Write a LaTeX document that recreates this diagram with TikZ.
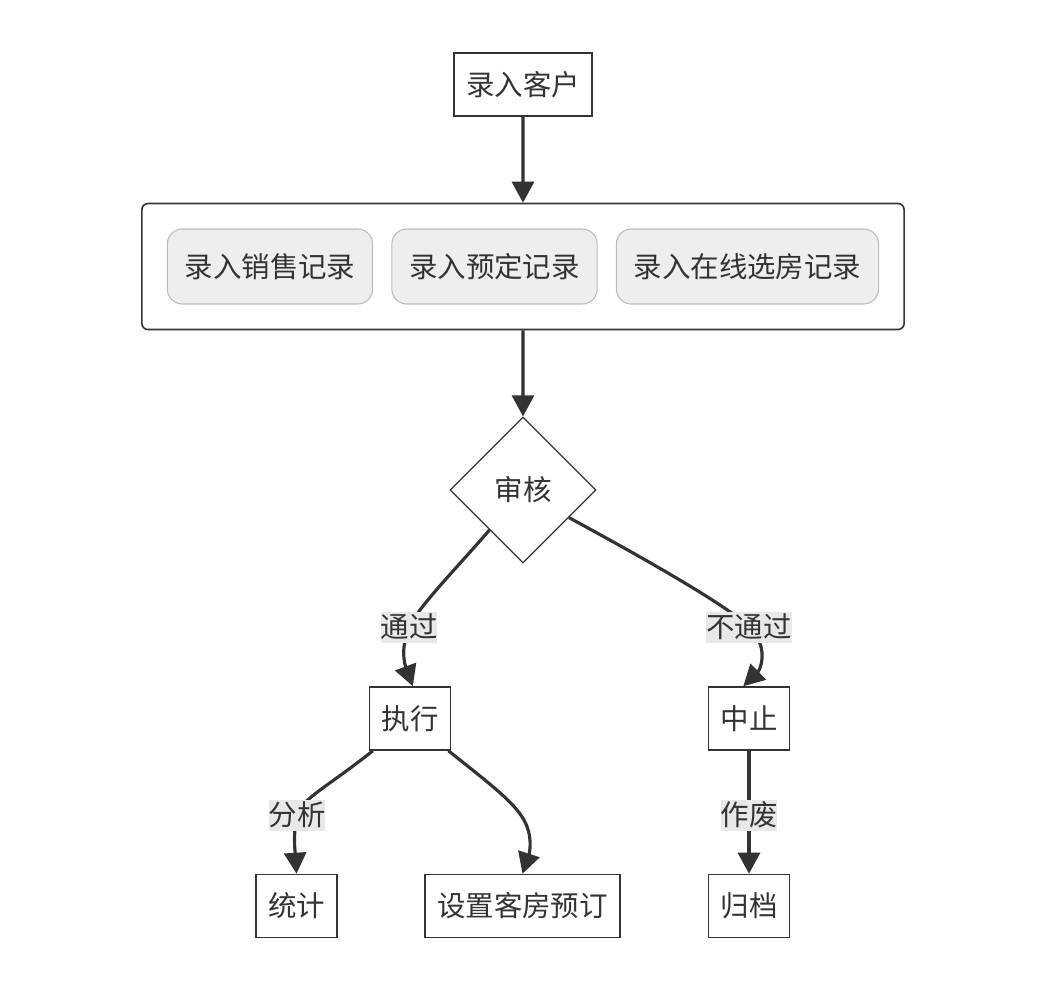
\documentclass[tikz,border=0pt]{standalone}
\usepackage{fontspec}
\setmainfont{Noto Sans CJK SC}
\usetikzlibrary{arrows.meta,fit,shapes.geometric}
\definecolor{ink}{HTML}{333333}
\definecolor{subfill}{HTML}{EEEEEE}
\definecolor{subdraw}{HTML}{BBBBBB}
\definecolor{lblfill}{HTML}{E8E8E8}
\tikzset{
  base/.style={font=\fontsize{16.2}{18}\selectfont,text=ink},
  stepbox/.style={base,draw=ink,fill=white,line width=0.9pt,inner xsep=0.24cm,inner ysep=0pt,minimum height=1.26cm},
  subbox/.style={base,rounded corners=8.5pt,draw=subdraw,fill=subfill,line width=0.6pt,inner xsep=0.345cm,inner ysep=0pt,minimum height=1.5cm},
  group/.style={rounded corners=3.5pt,draw=ink,line width=0.9pt,inner sep=0.5cm},
  check/.style={base,diamond,aspect=1,draw=ink,fill=white,line width=0.7pt,minimum width=2.92cm,minimum height=2.92cm,inner sep=0pt},
  edgelabel/.style={base,fill=lblfill,inner xsep=0pt,inner ysep=0pt,minimum height=0.62cm},
  arr/.style={-{Triangle[length=0.42cm,width=0.44cm]},draw=ink,line width=1.8pt}
}
\begin{document}
\begin{tikzpicture}[x=0.02cm,y=-0.02cm]
\path[use as bounding box] (0,0) rectangle (1046,995);
\node[stepbox] (kehu) at (523,84.5) {录入客户};
\node[subbox] (xiaoshou) at (270,266.5) {录入销售记录};
\node[subbox] (yuding) at (494.5,266.5) {录入预定记录};
\node[subbox] (zaixian) at (747.5,266.5) {录入在线选房记录};
\node[group,fit=(xiaoshou)(yuding)(zaixian)] (luru) {};
\node[check] (shenhe) at (523,490) {审核};
\node[stepbox] (zhixing) at (410,718.5) {执行};
\node[stepbox] (zhongzhi) at (749,718.5) {中止};
\node[stepbox] (tongji) at (296.5,906) {统计};
\node[stepbox] (shezhi) at (522.5,906) {设置客房预订};
\node[stepbox] (guidang) at (749,906) {归档};
\coordinate (pass) at (409,627);
\coordinate (fail) at (749,627);
\coordinate (ana) at (297,815);
\coordinate (void) at (749,815);
\draw[arr] (kehu) -- (luru);
\draw[arr] (luru) -- (shenhe);
\draw[arr] (shenhe.-130) .. controls (455,570) and (420,605) .. (pass) .. controls (400,650) and (405,665) .. (zhixing.85);
\draw[arr] (shenhe.-31) .. controls (660,567) and (730,608) .. (fail) .. controls (770,647) and (760,670) .. (zhongzhi.100);
\draw[arr] (zhixing.-139) .. controls (330,785) and (300,800) .. (ana) .. controls (293,835) and (295,850) .. (tongji.north);
\draw[arr] (zhixing.-40) .. controls (510,800) and (532,815) .. (530,848) .. controls (529,860) and (525,866) .. (shezhi.north);
\draw[arr] (zhongzhi) -- (void) -- (guidang);
\node[edgelabel] (passlbl) at (pass) {通过};
\node[edgelabel] (faillbl) at (fail) {不通过};
\node[edgelabel] (analbl) at (ana) {分析};
\node[edgelabel] (voidlbl) at (void) {作废};
\end{tikzpicture}
\end{document}
